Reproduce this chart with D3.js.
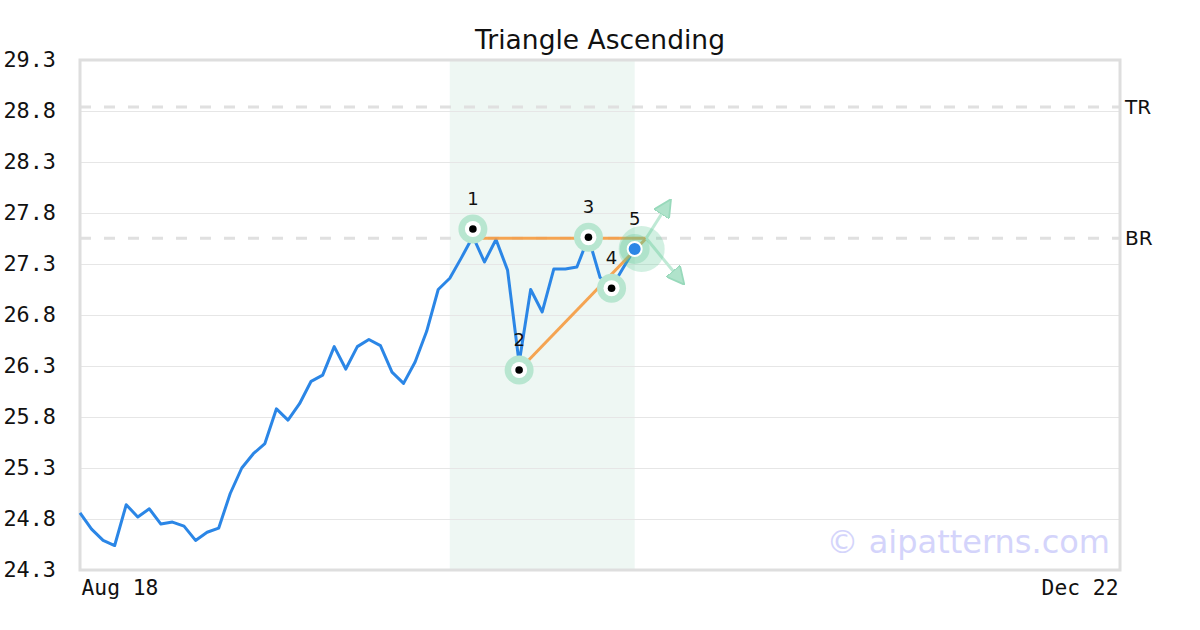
<!DOCTYPE html>
<html><head><meta charset="utf-8">
<script src="https://cdn.jsdelivr.net/npm/d3@7/dist/d3.min.js"></script>
<style>body{margin:0;background:#fff}svg{display:block}</style>
</head><body><svg id="c" width="1200" height="630"></svg>
<script>
const title = "Triangle Ascending";
const closes = [24.86,24.70,24.59,24.54,24.94,24.82,24.90,24.75,24.77,24.73,24.59,24.67,24.71,25.05,25.30,25.44,25.54,25.88,25.77,25.93,26.15,26.21,26.49,26.27,26.49,26.56,26.50,26.24,26.13,26.34,26.64,27.05,27.16,27.36,27.57,27.32,27.54,27.24,26.33,27.05,26.83,27.25,27.25,27.27,27.56,27.17,27.07,27.26,27.45];
const pivotIdx = [34,38,44,46,48];
const pivotVal = [27.643,26.261,27.562,27.062,27.447];
const pivotLabels = ["1","2","3","4","5"];
const yTicks = [24.3,24.8,25.3,25.8,26.3,26.8,27.3,27.8,28.3,28.8,29.3];
const xTickLabels = ["Aug 18","Dec 22"];
const levels = [{name:"TR",value:28.84},{name:"BR",value:27.552}];
const shadeRange = [32,48];
const topLine = [[34,27.552],[49,27.552]];
const bottomLine = [[38,26.261],[49,27.552]];
const arrowStart = [49,27.552];
const arrowEnds = [[51.06,27.921],[52.2,27.111]];
const xDomain = [0,90];

const svg = d3.select("#c");
const L=80,R=1120,T=60,B=570;
const x = d3.scaleLinear().domain(xDomain).range([L,R]);
const y = d3.scaleLinear().domain([24.3,29.3]).range([B,T]);

svg.append("text").attr("x",600).attr("y",49).attr("text-anchor","middle")
  .attr("font-family","DejaVu Sans").attr("font-size",26.5).attr("fill","#111").text(title);

// shaded region
svg.append("rect").attr("x",x(shadeRange[0])).attr("y",T).attr("width",x(shadeRange[1])-x(shadeRange[0])).attr("height",B-T).attr("fill","#eef7f3");

// grid
const yAxis = d3.axisLeft(y).tickValues(yTicks).tickSize(-(R-L)).tickFormat(d3.format(".1f"));
const gy = svg.append("g").attr("transform",`translate(${L},0)`).call(yAxis);
gy.select(".domain").remove();
gy.selectAll(".tick line").attr("stroke","#e6e6e6").attr("stroke-width",1);
gy.selectAll(".tick text").attr("x",-24).attr("font-family","DejaVu Sans Mono").attr("font-size",21.8).attr("fill","#111");

// level dashed lines
levels.forEach(l=>{
  svg.append("line").attr("x1",L).attr("x2",R).attr("y1",y(l.value)).attr("y2",y(l.value))
    .attr("stroke","#e0e0e0").attr("stroke-width",3).attr("stroke-dasharray","11,13");
  svg.append("text").attr("x",R+5).attr("y",y(l.value)+7).attr("font-family","DejaVu Sans").attr("font-size",20).attr("fill","#111").text(l.name);
});

// frame
svg.append("rect").attr("x",L).attr("y",T).attr("width",R-L).attr("height",B-T).attr("fill","none").attr("stroke","#dedede").attr("stroke-width",3);

// x ticks
const xa = d3.axisBottom(x).tickValues(xDomain).tickSize(0).tickFormat((d,i)=>xTickLabels[i]);
const gx = svg.append("g").attr("transform",`translate(0,${B})`).call(xa);
gx.select(".domain").remove();
gx.selectAll(".tick text").attr("font-family","DejaVu Sans Mono").attr("font-size",21.3).attr("fill","#111").attr("dy",null).attr("y",25)
  .attr("text-anchor",(d,i)=>i===0?"start":"end").attr("dx",(d,i)=>i===0?1:-2);

// watermark
svg.append("text").attr("x",1110).attr("y",553).attr("text-anchor","end").attr("font-family","DejaVu Sans").attr("font-size",32).attr("fill","#d4d4fb").text("© aipatterns.com");

// price line
const line = d3.line().x((d,i)=>x(i)).y(d=>y(d));
svg.append("path").datum(closes).attr("d",line).attr("fill","none").attr("stroke","#2b86e6").attr("stroke-width",3).attr("stroke-linejoin","round");

// pattern lines
const pl = d3.line().x(d=>x(d[0])).y(d=>y(d[1]));
[topLine,bottomLine].forEach(s=>svg.append("path").attr("d",pl(s)).attr("fill","none").attr("stroke","#f59a3f").attr("stroke-width",3).attr("opacity",0.9));

// arrows
const defs = svg.append("defs");
defs.append("marker").attr("id","ah").attr("viewBox","0 0 10 10").attr("refX",9).attr("refY",5).attr("markerWidth",6).attr("markerHeight",6).attr("orient","auto")
  .append("path").attr("d","M0,0 L10,5 L0,10 z").attr("fill","#b0e3cb").attr("stroke","#98d9bb").attr("stroke-width",1);
arrowEnds.forEach(e=>{
  svg.append("line").attr("x1",x(arrowStart[0])).attr("y1",y(arrowStart[1])).attr("x2",x(e[0])).attr("y2",y(e[1]))
    .attr("stroke","#bfe9d5").attr("stroke-width",3).attr("marker-end","url(#ah)");
});

// pivots
pivotIdx.forEach((pi,k)=>{
  const cx=x(pi), cy=y(pivotVal[k]);
  if(k===4){
    svg.append("circle").attr("cx",cx+7).attr("cy",cy).attr("r",23).attr("fill","#5fc896").attr("opacity",0.28);
    svg.append("circle").attr("cx",cx).attr("cy",cy).attr("r",15).attr("fill","#5fc896").attr("opacity",0.3);
    svg.append("circle").attr("cx",cx).attr("cy",cy).attr("r",7).attr("fill","#2b86e6").attr("stroke","#fff").attr("stroke-width",2);
  } else {
    svg.append("circle").attr("cx",cx).attr("cy",cy).attr("r",14.5).attr("fill","#b8e6d0");
    svg.append("circle").attr("cx",cx).attr("cy",cy).attr("r",8).attr("fill","#fff");
    svg.append("circle").attr("cx",cx).attr("cy",cy).attr("r",3.8).attr("fill","#000");
  }
  svg.append("text").attr("x",cx).attr("y",cy-24).attr("text-anchor","middle").attr("font-family","DejaVu Sans").attr("font-size",18).attr("fill","#111").text(pivotLabels[k]);
});
</script></body></html>
